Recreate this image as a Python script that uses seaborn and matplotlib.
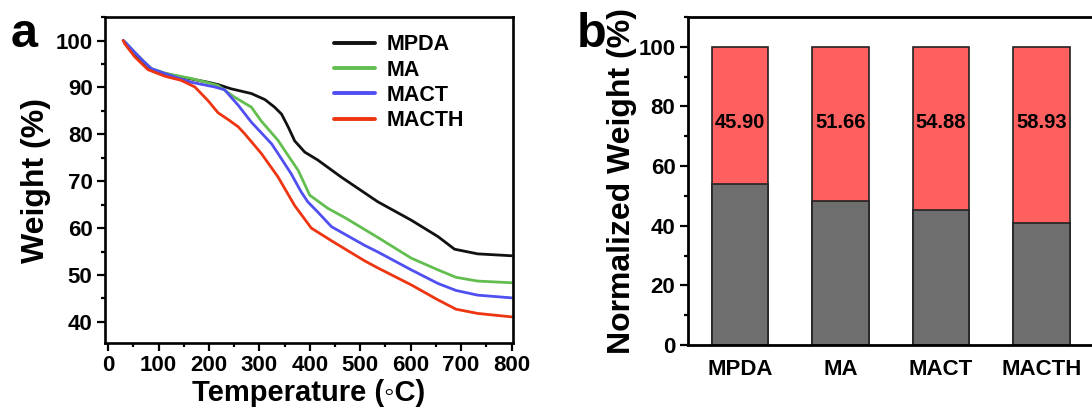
import numpy as np
import pandas as pd
import matplotlib
matplotlib.use("Agg")
import matplotlib.pyplot as plt
from matplotlib.ticker import MultipleLocator
import seaborn as sns

# ---- TGA curves: temperature (°C) and remaining weight (%) ----
mpda_t = [30, 36, 50, 70, 86, 112, 132, 165, 198, 218, 244, 284, 311, 330, 344,
          357, 370, 390, 416, 462, 535, 601, 654, 687, 733, 800]
mpda_w = [100, 99.3, 97.6, 95.3, 93.6, 92.9, 92.5, 91.8, 91.1, 90.6, 89.7, 88.7,
          87.4, 85.8, 84.3, 81.6, 78.6, 76.2, 74.5, 70.9, 65.6, 61.7, 58.2, 55.5,
          54.5, 54.10]

ma_t = [30, 36, 50, 70, 86, 112, 132, 165, 198, 218, 251, 284, 304, 337, 350,
        377, 400, 436, 470, 535, 601, 654, 690, 733, 800]
ma_w = [100, 99.4, 97.8, 95.6, 94.0, 93.1, 92.6, 91.9, 91.0, 90.4, 87.9, 85.8,
        82.8, 78.7, 76.6, 72.3, 67.0, 64.2, 62.2, 58.0, 53.6, 51.1, 49.5, 48.7,
        48.34]

mact_t = [30, 36, 50, 70, 86, 112, 139, 165, 211, 231, 244, 258, 284, 324, 337,
          363, 383, 396, 416, 443, 509, 535, 601, 654, 690, 733, 800]
mact_w = [100, 99.4, 97.8, 95.6, 94.0, 93.0, 92.0, 91.1, 90.1, 89.5, 87.9, 86.2,
          82.6, 78.0, 75.9, 71.6, 67.7, 65.6, 63.4, 60.3, 56.3, 54.9, 51.1, 48.2,
          46.7, 45.7, 45.12]

macth_t = [30, 33, 53, 79, 112, 145, 172, 198, 218, 240, 258, 271, 304, 337, 370,
           403, 443, 469, 509, 535, 601, 654, 690, 733, 800]
macth_w = [100, 99.3, 96.5, 93.8, 92.4, 91.5, 90.1, 87.2, 84.6, 83.0, 81.6, 80.1,
           75.9, 70.9, 64.8, 60.0, 57.3, 55.6, 53.0, 51.5, 47.9, 44.7, 42.7, 41.8,
           41.07]

# ---- normalized weight bars ----
samples = ["MPDA", "MA", "MACT", "MACTH"]
weight_loss = [45.90, 51.66, 54.88, 58.93]
residue = [54.10, 48.34, 45.12, 41.07]

line_colors = {"MPDA": "#111111", "MA": "#63BE50", "MACT": "#4F4FF2", "MACTH": "#EE3512"}
loss_color = "#FF5F5F"
residue_color = "#6E6E6E"

sns.set_theme(style="ticks")
plt.rcParams["font.family"] = ["Liberation Sans", "DejaVu Sans"]
plt.rcParams["font.weight"] = "bold"
plt.rcParams["axes.labelweight"] = "bold"
plt.rcParams["text.color"] = "black"
plt.rcParams["axes.labelcolor"] = "black"
plt.rcParams["axes.linewidth"] = 1.9
plt.rcParams["axes.edgecolor"] = "black"
for ax_name in ("xtick", "ytick"):
    plt.rcParams[f"{ax_name}.direction"] = "out"
    plt.rcParams[f"{ax_name}.major.size"] = 5.5
    plt.rcParams[f"{ax_name}.major.width"] = 1.6
    plt.rcParams[f"{ax_name}.minor.size"] = 3.2
    plt.rcParams[f"{ax_name}.minor.width"] = 1.6
    plt.rcParams[f"{ax_name}.color"] = "black"
    plt.rcParams[f"{ax_name}.labelcolor"] = "black"
    plt.rcParams[f"{ax_name}.labelsize"] = 16

fig = plt.figure(figsize=(10.92, 4.11), dpi=100)
ax1 = fig.add_axes([0.0962, 0.1655, 0.3736, 0.793])
ax2 = fig.add_axes([0.6300, 0.1606, 0.3718, 0.798])

# ---- panel a: TGA ----
frames = []
for name, t, w in (("MPDA", mpda_t, mpda_w), ("MA", ma_t, ma_w),
                   ("MACT", mact_t, mact_w), ("MACTH", macth_t, macth_w)):
    frames.append(pd.DataFrame({"Temperature": t, "Weight": w, "Sample": name}))
tga = pd.concat(frames, ignore_index=True)

sns.lineplot(data=tga, x="Temperature", y="Weight", hue="Sample",
             hue_order=samples, palette=line_colors, estimator=None, sort=False,
             linewidth=2.0, ax=ax1, legend=False)

ax1.set_xlim(-6, 803)
ax1.set_ylim(35.5, 105)
ax1.xaxis.set_major_locator(MultipleLocator(100))
ax1.xaxis.set_minor_locator(MultipleLocator(50))
ax1.yaxis.set_major_locator(MultipleLocator(10))
ax1.yaxis.set_minor_locator(MultipleLocator(5))
ax1.set_yticks([40, 50, 60, 70, 80, 90, 100])
for lab in ax1.get_xticklabels() + ax1.get_yticklabels():
    lab.set_fontweight("bold")
ax1.set_xlabel("Temperature (\u25E6C)", fontsize=21, labelpad=2)
ax1.set_ylabel("Weight (%)", fontsize=23, labelpad=3)

handles = [plt.Line2D([], [], color=line_colors[s], linewidth=2.8) for s in samples]
leg = ax1.legend(handles, samples, loc="upper left", bbox_to_anchor=(0.562, 0.947),
                 frameon=False, fontsize=15.5, handlelength=1.9, handletextpad=0.55,
                 labelspacing=0.2, borderpad=0, borderaxespad=0)
for txt in leg.get_texts():
    txt.set_fontweight("bold")

fig.text(0.010, 0.885, "a", fontsize=35, fontweight="bold", ha="left", va="baseline")

# ---- panel b: normalized weight ----
bars = pd.DataFrame({"Sample": samples,
                     "Total": np.array(residue) + np.array(weight_loss),
                     "Residue": residue,
                     "Loss": weight_loss})
sns.barplot(data=bars, x="Sample", y="Total", order=samples, color=loss_color,
            saturation=1, width=0.56, edgecolor="#222222", linewidth=1.2, ax=ax2)
sns.barplot(data=bars, x="Sample", y="Residue", order=samples, color=residue_color,
            saturation=1, width=0.56, edgecolor="#222222", linewidth=1.2, ax=ax2)

for i, loss in enumerate(weight_loss):
    ax2.text(i, 74.5, f"{loss:.2f}", ha="center", va="center", fontsize=14.5,
             fontweight="bold", color="black")

ax2.set_xlim(-0.515, 3.52)
ax2.set_ylim(0, 110)
ax2.yaxis.set_major_locator(MultipleLocator(20))
ax2.yaxis.set_minor_locator(MultipleLocator(10))
ax2.set_yticks([0, 20, 40, 60, 80, 100])
ax2.tick_params(axis="x", length=0, pad=10, labelsize=16)
for lab in ax2.get_xticklabels() + ax2.get_yticklabels():
    lab.set_fontweight("bold")
ax2.set_xlabel("")
ax2.set_ylabel("Normalized Weight (%)", fontsize=23, labelpad=1)
for sp in ax2.spines.values():
    sp.set_linewidth(2.0)

fig.text(0.528, 0.885, "b", fontsize=35, fontweight="bold", ha="left", va="baseline")

fig.savefig("out.png", dpi=100)
